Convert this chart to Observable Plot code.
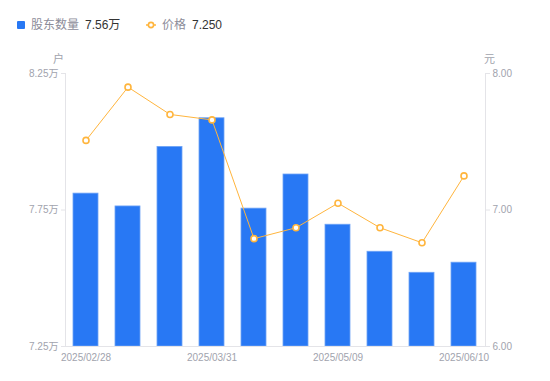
<!DOCTYPE html>
<html><head><meta charset="utf-8">
<script src="https://cdn.jsdelivr.net/npm/d3@7"></script>
<script src="https://cdn.jsdelivr.net/npm/@observablehq/plot@0.6"></script>
<style>
body{margin:0;background:#fff;font-family:Helvetica,Arial,"Liberation Sans","Noto Sans CJK SC",sans-serif;}
#wrap{position:relative;width:550px;height:381px;}
#legend{position:relative;height:48px;font-size:12px;}
.it{position:absolute;top:17px;line-height:16px;white-space:nowrap;}
.sw{position:absolute;}
.nm{color:#8c8c99;}
.vl{color:#333;margin-left:6px;}
.unit{position:absolute;top:50px;font-size:11px;color:#a1a3ad;}
svg{display:block;}
</style></head>
<body>
<div id="wrap">
<div id="legend"></div>
<div class="unit" id="uL" style="left:53px">户</div>
<div class="unit" id="uR" style="left:484px">元</div>
<div id="chart"></div>
</div>
<script>
const dates = ["2025/02/28","2025/03/10","2025/03/20","2025/03/31","2025/04/10","2025/04/30","2025/05/09","2025/05/20","2025/05/30","2025/06/10"];
const holders = [7.81, 7.763, 7.981, 8.086, 7.755, 7.88, 7.696, 7.597, 7.52, 7.557];
const prices = [7.51, 7.90, 7.70, 7.66, 6.79, 6.87, 7.05, 6.87, 6.76, 7.25];
const leftTicks = [7.25, 7.75, 8.25];
const rightTicks = [6.00, 7.00, 8.00];
const xTickDates = [dates[0], dates[3], dates[6], dates[9]];
const seriesNames = ["股东数量", "价格"];

const blue = "#2878f4", orange = "#ffb53d";
// map price (元, 6..8) onto holder axis (万, 7.25..8.25)
const pMin = 6, pMax = 8, hMin = 7.25, hMax = 8.25;
const toH = p => hMin + (p - pMin) / (pMax - pMin) * (hMax - hMin);
const toP = h => pMin + (h - hMin) / (hMax - hMin) * (pMax - pMin);

const data = dates.map((d, i) => ({date: d, holders: holders[i], price: prices[i], pH: toH(prices[i])}));

// legend
const lg = document.getElementById("legend");
lg.innerHTML = `
<div class="it" style="left:17px"><span class="sw" style="left:0;top:4px;width:8px;height:8px;background:${blue};border-radius:1px"></span><span style="margin-left:14px" class="nm">${seriesNames[0]}</span><span class="vl">${holders[holders.length-1].toFixed(2)}万</span></div>
<div class="it" style="left:145px"><svg class="sw" style="left:0;top:3px" width="12" height="10"><line x1="1" x2="11" y1="5" y2="5" stroke="${orange}" stroke-width="1.5"/><circle cx="6" cy="5" r="2.6" fill="#fff" stroke="${orange}" stroke-width="1.6"/></svg><span style="margin-left:17px" class="nm">${seriesNames[1]}</span><span class="vl">${prices[prices.length-1].toFixed(3)}</span></div>`;

const chart = Plot.plot({
  width: 550, height: 333,
  marginLeft: 65, marginRight: 65, marginTop: 25, marginBottom: 35,
  style: {fontFamily: 'Helvetica, Arial, "Liberation Sans", "Noto Sans CJK SC", sans-serif', fontSize: "10px", color: "#a1a3ad", background: "#fff"},
  x: {type: "band", domain: dates, paddingInner: 0.4, paddingOuter: 0.2},
  y: {domain: [hMin, hMax]},
  marks: [
    Plot.frame({anchor: "left", stroke: "#e4e4e8"}),
    Plot.frame({anchor: "right", stroke: "#e4e4e8"}),
    Plot.barY(data, {x: "date", y1: hMin, y2: "holders", fill: blue, stroke: "#6ea3f6", strokeWidth: 0.8}),
    Plot.frame({anchor: "bottom", stroke: "#e4e4e8"}),
    Plot.line(data, {x: "date", y: "pH", stroke: orange, strokeWidth: 1}),
    Plot.dot(data, {x: "date", y: "pH", r: 3, fill: "#fff", stroke: orange, strokeWidth: 1.6}),
    Plot.axisY({anchor: "left", ticks: leftTicks, tickFormat: d => d.toFixed(2) + "万", tickSize: 4, tickPadding: 3, stroke: "#e4e4e8", label: null}),
    Plot.axisY({anchor: "right", ticks: rightTicks.map(toH), tickFormat: d => toP(d).toFixed(2), tickSize: 4, tickPadding: 3, stroke: "#e4e4e8", label: null}),
    Plot.axisX({ticks: xTickDates, tickSize: 0, tickPadding: 7, label: null})
  ]
});
document.getElementById("chart").appendChild(chart);
</script>
</body></html>
